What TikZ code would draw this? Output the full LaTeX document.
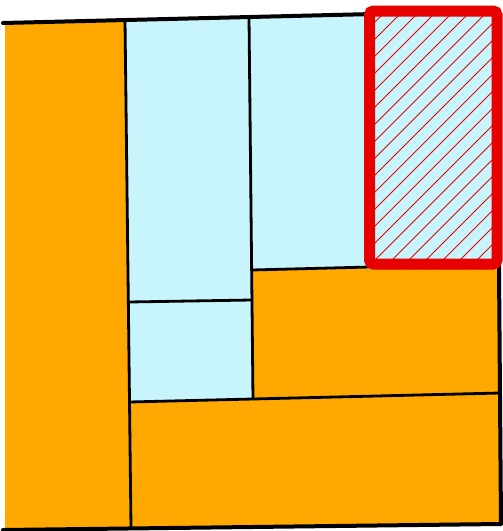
\documentclass[tikz,border=0pt]{standalone}
\definecolor{lorange}{RGB}{255,168,0}
\definecolor{lblue}{RGB}{200,245,252}
\definecolor{hred}{RGB}{230,0,0}
\tikzset{
  border/.style={line width=4pt, line join=round, line cap=round},
  inner/.style={line width=2.8pt, line cap=round},
  hatch/.style={hred, line width=0.9pt}
}
\begin{document}
\begin{tikzpicture}[x=1pt,y=-1pt]
\useasboundingbox (0,0) rectangle (503,531);
% base orange
\fill[lorange] (5,23) -- (497,11) -- (501,524) -- (5,530) -- cycle;
% light blue area
\fill[lblue] (125,20) -- (497,11) -- (499,267) -- (251.6,270) -- (253,399) -- (129.5,402) -- cycle;
% inner lines
\draw[inner] (125,20) -- (131,528);
\draw[inner] (249,17) -- (253,399);
\draw[inner] (128.3,302) -- (252,300);
\draw[inner] (129.5,402) -- (500,393);
\draw[inner] (251.6,270) -- (370,267);
% outer border (no left stroke)
\draw[border] (3,23) -- (497,11) -- (501,524) -- (3,530);
% red hatched box
\fill[lblue] (370,11) rectangle (497,264);
\begin{scope}
\clip (370,11) rectangle (497,264);
\foreach \i in {-260,-243,...,140}
  \draw[hatch] (370+\i,270) -- ++(300,-300);
\end{scope}
\draw[hred, line width=11pt, rounded corners=4pt] (369.5,11) rectangle (497,264);
\end{tikzpicture}
\end{document}
